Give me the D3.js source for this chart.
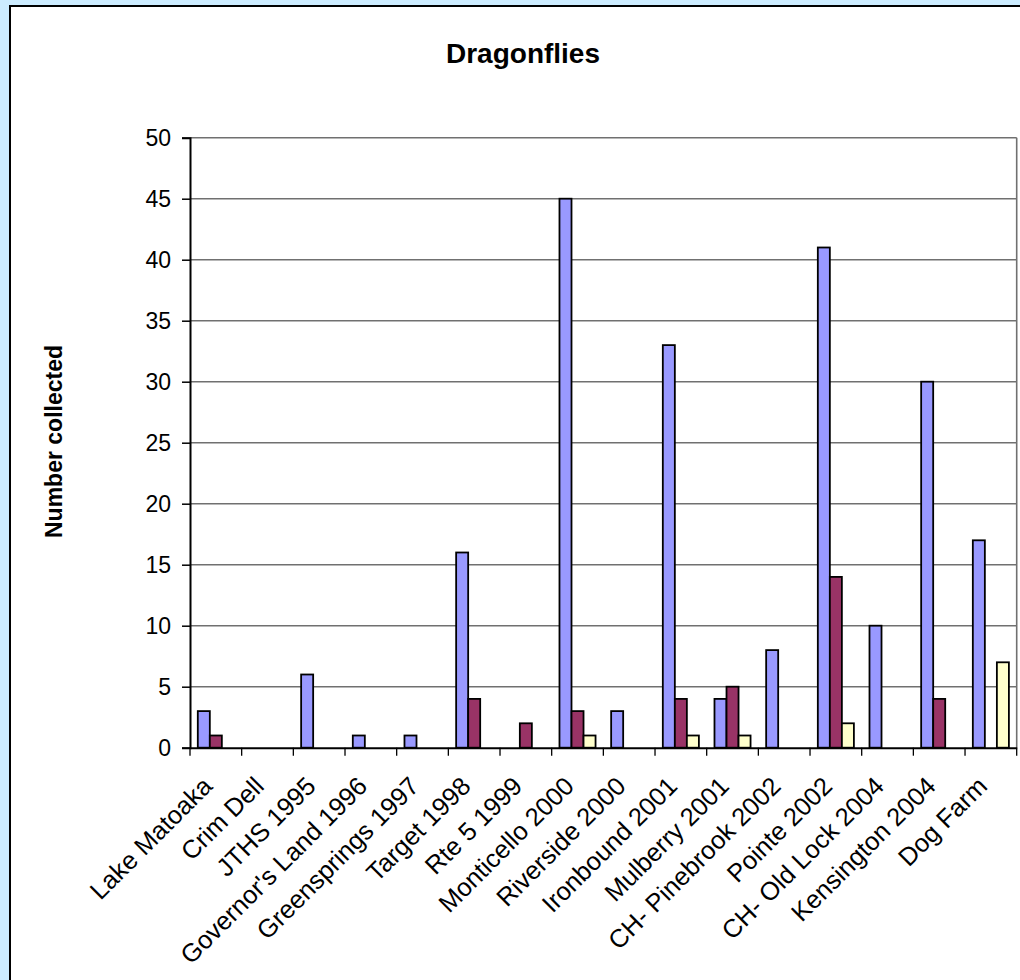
<!DOCTYPE html>
<html>
<head>
<meta charset="utf-8">
<script src="https://cdn.jsdelivr.net/npm/d3@7"></script>
<style>
  html, body { margin: 0; padding: 0; background: #CCECFF; }
  svg { display: block; }
  text { font-family: "Liberation Sans", Arial, sans-serif; fill: #000; }
</style>
</head>
<body>
<svg id="chart" width="1020" height="980"></svg>
<script>
const categories = ["Lake Matoaka", "Crim Dell", "JTHS 1995", "Governor's Land 1996", "Greensprings 1997",
  "Target 1998", "Rte 5 1999", "Monticello 2000", "Riverside 2000", "Ironbound 2001", "Mulberry 2001",
  "CH- Pinebrook 2002", "Pointe 2002", "CH- Old Lock 2004", "Kensington 2004", "Dog Farm"];
const seriesNames = ["Series 1", "Series 2", "Series 3"];
const series1 = [3, 0, 6, 1, 1, 16, 0, 45, 3, 33, 4, 8, 41, 10, 30, 17];
const series2 = [1, 0, 0, 0, 0, 4, 2, 3, 0, 4, 5, 0, 14, 0, 4, 0];
const series3 = [0, 0, 0, 0, 0, 0, 0, 1, 0, 1, 1, 0, 2, 0, 0, 7];
const yTicks = [0, 5, 10, 15, 20, 25, 30, 35, 40, 45, 50];
const colors = ["#9999FF", "#993366", "#FFFFCC"];
const chartTitle = "Dragonflies";
const yTitle = "Number collected";

(function () {
const svg = d3.select("#chart");

// chart area
svg.append("rect").attr("x", 10).attr("y", 6).attr("width", 1030).attr("height", 1000)
  .attr("fill", "#fff").attr("stroke", "#000").attr("stroke-width", 2);

const pLeft = 190, pRight = 1016.7, pTop = 137.7, pBottom = 747.7;

const x = d3.scaleBand().domain(categories).range([pLeft, pRight]).padding(0);
const xs = d3.scaleBand().domain(seriesNames).range([7.8, x.bandwidth() - 7.8]).padding(0);
const y = d3.scaleLinear().domain([0, 50]).range([pBottom, pTop]);

// gridlines
svg.append("g").selectAll("line").data(yTicks.filter(d => d > 0)).join("line")
  .attr("x1", pLeft).attr("x2", pRight)
  .attr("y1", d => y(d)).attr("y2", d => y(d))
  .attr("stroke", "#707070").attr("stroke-width", 1.4);

// plot border right
svg.append("line").attr("x1", pRight).attr("x2", pRight).attr("y1", pTop).attr("y2", pBottom)
  .attr("stroke", "#707070").attr("stroke-width", 1.6);

// bars
const data = [series1, series2, series3];
const barData = [];
data.forEach((vals, si) => vals.forEach((v, ci) => {
  if (v > 0) barData.push({ cat: categories[ci], s: seriesNames[si], v, si });
}));
svg.append("g").selectAll("rect").data(barData).join("rect")
  .attr("x", d => x(d.cat) + xs(d.s))
  .attr("width", xs.bandwidth())
  .attr("y", d => y(d.v))
  .attr("height", d => y(0) - y(d.v))
  .attr("fill", d => colors[d.si])
  .attr("stroke", "#000").attr("stroke-width", 1.8);

// y axis
const yAxis = d3.axisLeft(y).tickValues(yTicks).tickSize(8).tickPadding(11);
const yg = svg.append("g").attr("transform", `translate(${pLeft},0)`).call(yAxis);
yg.select(".domain").attr("stroke", "#000").attr("stroke-width", 2);
yg.selectAll(".tick line").attr("stroke", "#000").attr("stroke-width", 1.5);
yg.selectAll(".tick text").attr("font-size", 23).attr("font-family", "Liberation Sans, Arial, sans-serif").attr("fill", "#000");

// x axis
const xAxis = d3.axisBottom(x).tickSize(0).tickFormat("");
const xg = svg.append("g").attr("transform", `translate(0,${pBottom})`).call(xAxis);
xg.select(".domain").attr("stroke", "#000").attr("stroke-width", 2);
xg.selectAll(".tick").remove();
// category boundary ticks
const bounds = categories.map(c => x(c)).concat([pRight]);
svg.append("g").selectAll("line").data(bounds).join("line")
  .attr("x1", d => d).attr("x2", d => d)
  .attr("y1", pBottom).attr("y2", pBottom + 8)
  .attr("stroke", "#000").attr("stroke-width", 1.3);

// x labels
svg.append("g").selectAll("text").data(categories).join("text")
  .attr("transform", d => `translate(${x(d) + x.bandwidth() / 2 - 2},${pBottom + 40}) rotate(-45)`)
  .attr("text-anchor", "end")
  .attr("font-size", 25.5)
  .text(d => d);

// title
svg.append("text").attr("x", 523).attr("y", 62.5).attr("text-anchor", "middle")
  .attr("font-size", 28).attr("font-weight", "bold").text(chartTitle);

// y title
svg.append("text").attr("transform", `translate(61.5,441.5) rotate(-90)`)
  .attr("text-anchor", "middle").attr("font-size", 23).attr("font-weight", "bold").text(yTitle);
})();
</script>
</body>
</html>
